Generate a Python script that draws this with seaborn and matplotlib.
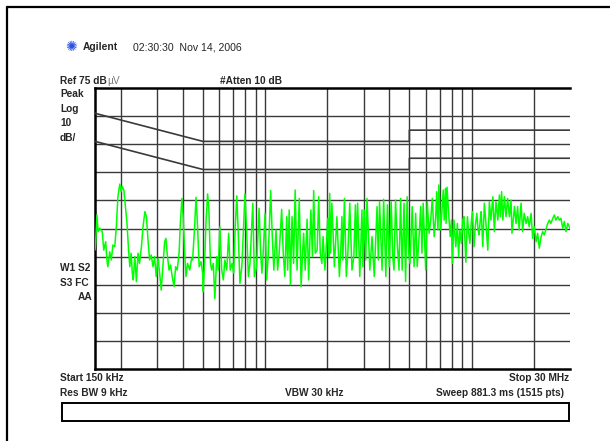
import numpy as np
import matplotlib
matplotlib.use("Agg")
import matplotlib.pyplot as plt
from matplotlib.patches import Rectangle
from matplotlib.lines import Line2D
import seaborn as sns

# analyzer sweep: 1515 log spaced points, 150 kHz .. 30 MHz
start_hz = 150e3
stop_hz = 30e6
n_pts = 1515

# trace (sweep point -> peak level in dBuV)
sweep_pt = [0, 2, 6, 10, 15, 23, 28, 34, 38, 41, 47, 52, 57, 63, 68, 73, 79, 83, 87, 92,
            97, 102, 107, 111, 115, 119, 122, 127, 132, 137, 142, 148, 153, 159, 164, 169, 174, 179, 185, 190,
            195, 201, 206, 211, 217, 222, 226, 230, 236, 241, 246, 252, 257, 262, 268, 272, 277, 281, 286, 290,
            295, 302, 308, 311, 317, 322, 327, 332, 338, 343, 345, 350, 354, 359, 363, 368, 372, 377, 382, 388,
            393, 398, 404, 409, 414, 420, 426, 431, 437, 442, 447, 452, 457, 462, 468, 473, 478, 484, 489, 494,
            503, 508, 515, 523, 528, 532, 536, 542, 547, 552, 560, 565, 570, 577, 582, 587, 595, 600, 605, 611,
            614, 619, 623, 628, 633, 638, 644, 651, 657, 661, 665, 670, 676, 681, 688, 693, 697, 702, 708, 713,
            718, 723, 727, 733, 742, 745, 748, 751, 755, 763, 771, 779, 783, 787, 790, 795, 801, 806, 812, 819,
            825, 830, 833, 837, 844, 851, 854, 858, 863, 867, 876, 883, 890, 899, 903, 907, 915, 920, 927, 932,
            938, 944, 949, 953, 958, 964, 969, 974, 979, 985, 990, 995, 1000, 1004, 1011, 1017, 1022, 1027, 1033, 1038,
            1042, 1046, 1054, 1059, 1065, 1070, 1075, 1081, 1086, 1089, 1093, 1096, 1102, 1106, 1110, 1113, 1117, 1119, 1122, 1126,
            1132, 1136, 1139, 1144, 1150, 1155, 1159, 1163, 1168, 1172, 1176, 1182, 1187, 1191, 1195, 1199, 1203, 1208, 1212, 1217,
            1221, 1224, 1228, 1231, 1236, 1241, 1246, 1252, 1257, 1262, 1268, 1273, 1278, 1284, 1289, 1292, 1296, 1300, 1305, 1310,
            1315, 1321, 1326, 1329, 1337, 1342, 1347, 1352, 1358, 1363, 1368, 1374, 1379, 1384, 1390, 1395, 1400, 1406, 1411, 1416,
            1422, 1427, 1432, 1443, 1448, 1453, 1459, 1464, 1469, 1475, 1480, 1485, 1491, 1496, 1501, 1507, 1514]
level_dbuv = [17.3, 19.7, 29.8, 23.9, 25.1, 23.9, 17.3, 20.3, 13.8, 11.4, 16.7, 13.8, 19.1, 18.5, 25.6, 36.3, 40.8, 38.1, 39.9, 38.7,
              32.8, 26.8, 17.3, 11.4, 16.2, 9.1, 6.7, 15.0, 6.1, 16.2, 12.6, 18.5, 25.6, 31.0, 29.2, 20.9, 13.8, 15.6, 11.4, 15.0,
              7.9, 14.4, 9.1, 3.1, 12.6, 20.3, 21.5, 16.2, 10.2, 12.0, 7.9, 4.3, 11.4, 10.2, 16.2, 26.8, 35.7, 29.2, 16.2, 7.9,
              12.6, 10.2, 14.4, 13.8, 24.5, 36.1, 25.6, 11.4, 13.2, 9.1, 2.5, 15.0, 28.0, 37.3, 31.6, 12.6, 10.2, 12.6, 0.0, 15.0,
              10.2, 25.6, 10.2, 6.7, 13.8, 10.2, 23.3, 10.2, 12.6, 9.1, 25.6, 36.6, 22.1, 5.5, 11.4, 24.5, 37.3, 22.1, 7.9, 12.6,
              34.0, 7.9, 11.4, 32.2, 16.2, 9.1, 16.2, 30.4, 6.7, 15.0, 38.5, 22.1, 10.2, 24.5, 10.2, 16.2, 31.8, 16.2, 7.9, 29.2,
              10.2, 31.6, 5.0, 29.2, 12.6, 38.7, 10.2, 35.7, 4.3, 15.0, 23.3, 10.2, 28.3, 6.7, 31.6, 15.0, 38.5, 16.2, 17.3, 36.3,
              16.2, 12.6, 22.1, 10.2, 28.6, 15.0, 37.5, 16.2, 34.0, 11.4, 29.2, 7.9, 16.2, 29.2, 13.8, 35.7, 7.9, 16.2, 34.0, 10.2,
              15.0, 33.4, 15.0, 34.0, 7.9, 31.6, 11.4, 31.6, 13.8, 35.7, 10.2, 22.1, 7.9, 32.8, 13.8, 34.5, 10.2, 35.4, 7.9, 33.4,
              11.4, 34.5, 15.0, 10.2, 35.1, 18.5, 10.2, 35.7, 10.2, 34.0, 6.1, 36.3, 16.2, 12.6, 32.8, 11.4, 30.4, 11.4, 22.1, 32.8,
              16.2, 34.0, 10.2, 34.5, 23.3, 28.0, 35.7, 22.1, 29.2, 38.1, 24.5, 40.5, 24.5, 31.6, 38.7, 28.0, 39.3, 26.8, 39.7, 32.8,
              22.1, 28.0, 12.6, 28.0, 18.5, 26.8, 15.0, 24.5, 19.7, 28.0, 29.2, 13.0, 29.2, 23.3, 19.7, 26.8, 31.0, 18.5, 25.6, 30.4,
              24.5, 22.7, 28.0, 31.0, 18.5, 34.0, 26.8, 17.3, 34.5, 28.0, 36.3, 23.9, 34.5, 28.0, 36.9, 29.2, 38.1, 28.0, 36.3, 29.2,
              35.7, 29.2, 35.1, 23.3, 32.8, 26.8, 32.8, 24.5, 34.0, 23.9, 30.4, 26.8, 29.2, 25.6, 30.4, 21.5, 25.6, 20.3, 23.3, 18.0,
              22.1, 23.9, 22.7, 26.8, 28.0, 26.8, 28.6, 29.8, 28.0, 29.2, 28.0, 28.6, 25.1, 27.5, 23.9, 26.8, 25.1]

# CISPR 22 class B limit lines (quasi-peak and average)
limit_mhz = [0.15, 0.5, 5, 5, 30]
qp_limit = [66, 56, 56, 60, 60]
avg_limit = [56, 46, 46, 50, 50]

# log graticule
grid_hz = [2e5, 3e5, 4e5, 5e5, 6e5, 7e5, 8e5, 9e5,
           1e6, 2e6, 3e6, 4e6, 5e6, 6e6, 7e6, 8e6, 9e6, 1e7, 2e7]
ref_level = 75
db_per_div = 10

sns.set_style("white")
plt.rcParams['font.family'] = ['Liberation Sans', 'DejaVu Sans']

W, H = 610, 441
fig = plt.figure(figsize=(W / 100, H / 100), dpi=100)

def fx(x):
    return x / W

def fy(y):
    return 1 - y / H

# screen area
ax = fig.add_axes([fx(95), fy(369), fx(570) - fx(95), fy(88) - fy(369)])
ax.set_xscale('log')
ax.set_xlim(start_hz, stop_hz)
ax.set_ylim(ref_level - 10 * db_per_div, ref_level)
ax.set_xticks(grid_hz)
ax.set_xticks([], minor=True)
ax.set_yticks(np.arange(ref_level - 9 * db_per_div, ref_level, db_per_div))
ax.tick_params(length=0, labelbottom=False, labelleft=False)
ax.grid(True, which='major', color='#3a3a3a', linewidth=1.0)
for side in ['top', 'bottom', 'left']:
    ax.spines[side].set_color('black')
    ax.spines[side].set_linewidth(1.8)
ax.spines['right'].set_visible(False)

lim_hz = np.array(limit_mhz) * 1e6
ax.plot(lim_hz, qp_limit, color='#3a3a3a', linewidth=1.2, zorder=3)
ax.plot(lim_hz, avg_limit, color='#3a3a3a', linewidth=1.2, zorder=3)

freq = start_hz * (stop_hz / start_hz) ** (np.array(sweep_pt) / (n_pts - 1))
sns.lineplot(x=freq, y=level_dbuv, ax=ax, color='#00ff00', linewidth=1.1,
             estimator=None, sort=False, zorder=4)
ax.set_xlabel('')
ax.set_ylabel('')

fs = 7.3
bold = dict(fontsize=fs, fontweight='bold', va='center')

# header
fig.text(fx(71), fy(47), '\u273a', fontsize=10, color='#3050e0', ha='center', va='center',
         family=['DejaVu Sans'])
fig.text(fx(83), fy(47), 'Agilent', fontsize=7.4, fontweight='bold', va='center')
fig.text(fx(133), fy(47), '02:30:30  Nov 14, 2006', fontsize=7.6, va='center')

fig.text(fx(60), fy(81), 'Ref 75 dB', **bold)
fig.text(fx(107.5), fy(81), '\u00b5V', fontsize=fs, color='#777777', va='center')
fig.text(fx(220), fy(81), '#Atten 10 dB', **bold)

for label, y in [('Peak', 94), ('Log', 109), ('10', 123), ('dB/', 138),
                 ('W1 S2', 268), ('S3 FC', 283)]:
    fig.text(fx(60), fy(y), label, **bold)
fig.text(fx(93), fy(297), 'AA', ha='right', **bold)

# footer
fig.text(fx(60), fy(378), 'Start 150 kHz', **bold)
fig.text(fx(569), fy(378), 'Stop 30 MHz', ha='right', **bold)
fig.text(fx(60), fy(393), 'Res BW 9 kHz', **bold)
fig.text(fx(285), fy(393), 'VBW 30 kHz', **bold)
fig.text(fx(564), fy(393), 'Sweep 881.3 ms (1515 pts)', ha='right', **bold)

fig.patches.append(Rectangle((fx(62), fy(421)), fx(569) - fx(62), fy(403) - fy(421),
                             transform=fig.transFigure, fill=False,
                             edgecolor='black', linewidth=1.4))

# page frame (top and left edges only)
fig.lines.append(Line2D([fx(7), 1.0], [fy(7), fy(7)], transform=fig.transFigure,
                        color='black', linewidth=1.6))
fig.lines.append(Line2D([fx(7), fx(7)], [fy(7), 0.0], transform=fig.transFigure,
                        color='black', linewidth=1.6))

fig.savefig('out.png', dpi=100)
